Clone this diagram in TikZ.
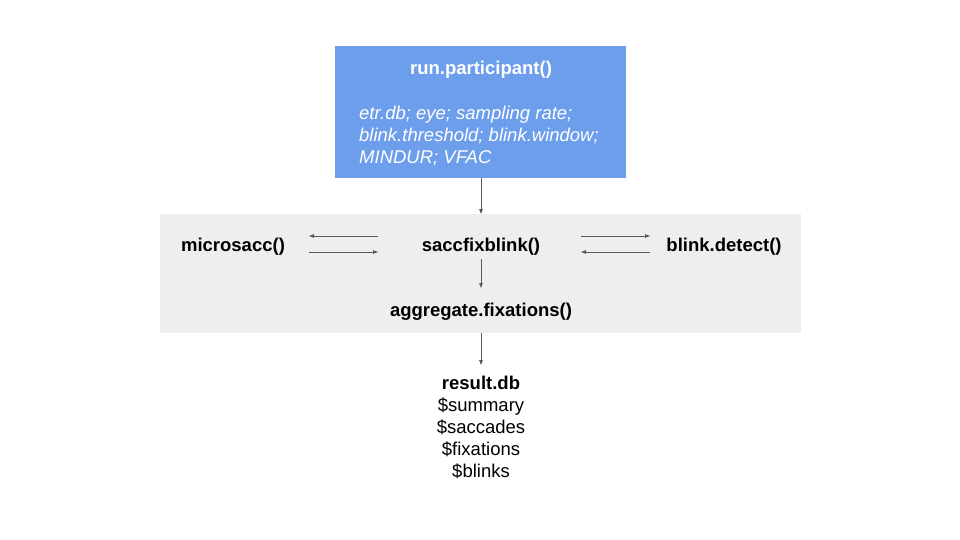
\documentclass[tikz,border=0pt]{standalone}
\usepackage{fontspec}
\setmainfont{Liberation Sans}
\usetikzlibrary{arrows.meta}
\definecolor{boxblue}{HTML}{6D9EEB}
\definecolor{boxgray}{HTML}{EEEEEE}
\definecolor{arrowgray}{HTML}{595959}
\begin{document}
\begin{tikzpicture}[x=1pt,y=-1pt,
  lbl/.style={inner sep=0pt, font=\fontsize{18.5}{22}\selectfont\bfseries},
  conn/.style={draw=arrowgray, line width=0.8pt, -{Triangle[length=5pt,width=3.5pt]}}]
\useasboundingbox (0,0) rectangle (960,540);
\fill[white] (0,0) rectangle (960,540);
% blue box
\node[fill=boxblue, minimum width=291pt, minimum height=132pt, inner sep=0pt, anchor=north west] (top) at (335,46) {};
\node[lbl, text=white] (toptitle) at (481,70) {run.participant()};
\node[inner sep=0pt, anchor=north west, text=white, align=left, font=\fontsize{18.5}{22}\selectfont\itshape] (params) at (359,106) {etr.db; eye; sampling rate;\\blink.threshold; blink.window;\\MINDUR; VFAC};
% gray box
\node[fill=boxgray, minimum width=641pt, minimum height=119pt, inner sep=0pt, anchor=north west] (gray) at (160,214) {};
\node[lbl] (micro) at (233,247) {microsacc()};
\node[lbl] (sfb) at (481,247) {saccfixblink()};
\node[lbl] (blink) at (724,247) {blink.detect()};
\node[lbl] (agg) at (481,312) {aggregate.fixations()};
% result
\node[inner sep=0pt, align=center, anchor=north, font=\fontsize{18.5}{22}\selectfont] (result) at (481,376) {\textbf{result.db}\\\$summary\\\$saccades\\\$fixations\\\$blinks};
% connectors
\coordinate (mA) at (378,236); \coordinate (mB) at (309,236);
\coordinate (mC) at (309,252); \coordinate (mD) at (378,252);
\coordinate (bA) at (581,236); \coordinate (bB) at (650,236);
\coordinate (bC) at (650,252); \coordinate (bD) at (581,252);
\draw[conn] (top.south -| sfb) -- (gray.north -| sfb);
\draw[conn] (mA) -- (mB);
\draw[conn] (mC) -- (mD);
\draw[conn] (bA) -- (bB);
\draw[conn] (bC) -- (bD);
\draw[conn] (481,259) -- (481,288);
\draw[conn] (gray.south -| agg) -- (481,365);
\end{tikzpicture}
\end{document}
